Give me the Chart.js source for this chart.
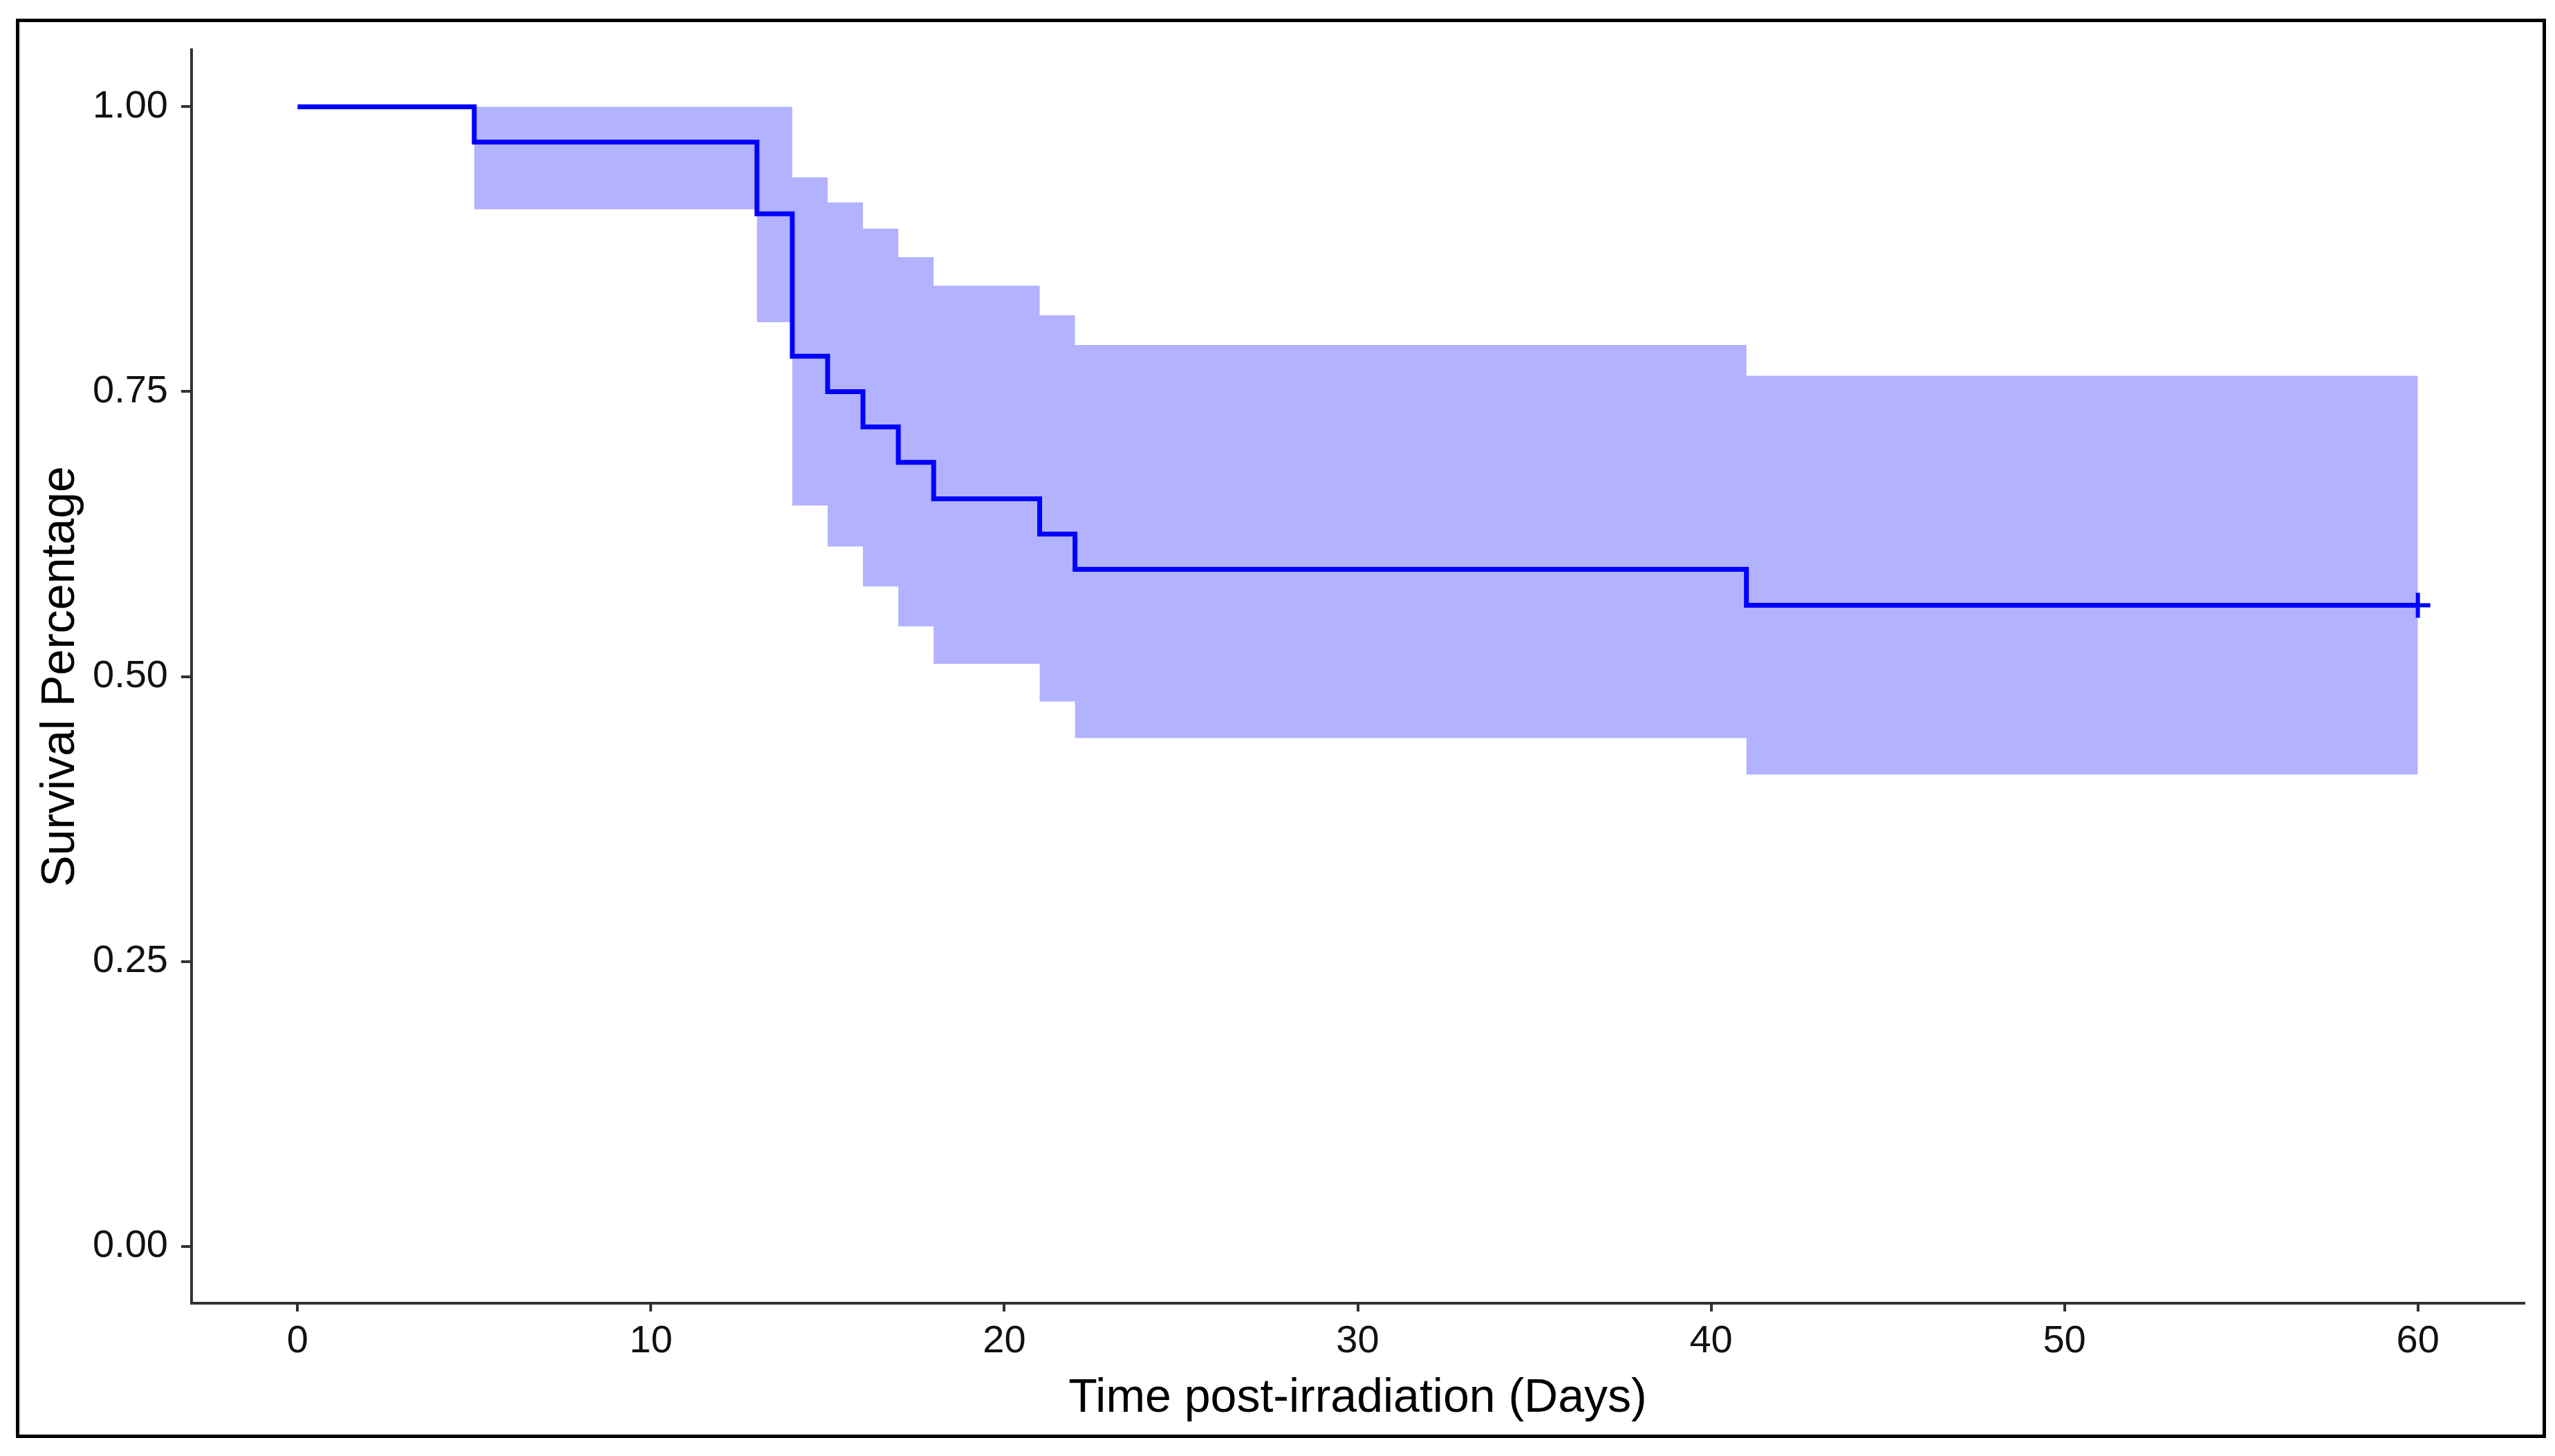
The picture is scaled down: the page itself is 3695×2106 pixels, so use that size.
<!DOCTYPE html>
<html>
<head>
<meta charset="utf-8">
<title>Survival curve</title>
<script src="https://cdn.jsdelivr.net/npm/chart.js@4.4.1/dist/chart.umd.min.js"></script>
<style>
    html, body { margin: 0; padding: 0; background: #fff; }
    #wrap { width: 3695px; height: 2106px; }
</style>
</head>
<body>
<div id="wrap"><canvas id="kmChart" width="3695" height="2106"></canvas></div>
<script>
// Kaplan-Meier estimate
const times = [0, 5, 13, 14, 15, 16, 17, 18, 21, 22, 41, 60];
const survival = [1.000, 0.969, 0.906, 0.781, 0.750, 0.719, 0.688, 0.656, 0.625, 0.594, 0.5625, 0.5625];
const upperCI = [1.000, 1.000, 1.000, 0.938, 0.916, 0.893, 0.868, 0.843, 0.817, 0.791, 0.764, 0.764];
const lowerCI = [1.000, 0.910, 0.811, 0.650, 0.614, 0.579, 0.544, 0.511, 0.478, 0.446, 0.414, 0.414];

// censored observations
const censorTimes = [60];
const censorSurv = [0.5625];

const xTicks = [0, 10, 20, 30, 40, 50, 60];
const yTicks = [0, 0.25, 0.5, 0.75, 1];
const yTickLabels = ['0.00', '0.25', '0.50', '0.75', '1.00'];

const FONT = "'Liberation Sans', Arial, Helvetica, sans-serif";
const AXIS = '#333333';

const toPoints = (xs, ys) => xs.map((x, i) => ({ x: x, y: ys[i] }));

// black box round the whole figure
const framePlugin = {
    id: 'frame',
    afterDraw(chart) {
        const ctx = chart.ctx;
        ctx.save();
        ctx.strokeStyle = '#000';
        ctx.lineWidth = 5;
        ctx.strokeRect(25.5, 29.5, 3654, 2048);
        ctx.restore();
    }
};

const ctx = document.getElementById('kmChart').getContext('2d');
new Chart(ctx, {
    type: 'scatter',
    data: {
        datasets: [
            {
                label: 'Survival',
                data: toPoints(times, survival),
                showLine: true,
                stepped: 'before',
                borderColor: '#0000FF',
                borderWidth: 7,
                pointRadius: 0,
                fill: false
            },
            {
                label: 'Censored',
                data: toPoints(censorTimes, censorSurv),
                showLine: false,
                pointStyle: 'cross',
                pointRadius: 18,
                pointBorderColor: '#0000FF',
                pointBorderWidth: 6
            },
            {
                label: 'Upper',
                data: toPoints(times, upperCI),
                showLine: true,
                stepped: 'before',
                borderWidth: 0,
                borderColor: 'rgba(0,0,0,0)',
                pointRadius: 0,
                backgroundColor: 'rgba(0, 0, 255, 0.3)',
                fill: '+1'
            },
            {
                label: 'Lower',
                data: toPoints(times, lowerCI),
                showLine: true,
                stepped: 'before',
                borderWidth: 0,
                borderColor: 'rgba(0,0,0,0)',
                pointRadius: 0,
                fill: false
            }
        ]
    },
    options: {
        responsive: false,
        animation: false,
        devicePixelRatio: 1,
        layout: {
            padding: { left: 0, top: 72, right: 45, bottom: 0 }
        },
        plugins: {
            legend: { display: false },
            tooltip: { enabled: false }
        },
        scales: {
            x: {
                type: 'linear',
                min: -3,
                max: 63,
                afterBuildTicks: (scale) => {
                    scale.ticks = xTicks.map(v => ({ value: v }));
                },
                afterFit: (scale) => { scale.height = 221; },
                grid: {
                    drawOnChartArea: false,
                    drawTicks: true,
                    tickLength: 12,
                    color: AXIS,
                    lineWidth: 4
                },
                border: { display: true, color: AXIS, width: 4 },
                ticks: {
                    padding: 10,
                    color: '#111',
                    font: { family: FONT, size: 56 },
                    maxRotation: 0,
                    callback: (value) => String(value)
                },
                title: {
                    display: true,
                    text: 'Time post-irradiation (Days)',
                    color: '#000',
                    font: { family: FONT, size: 68 },
                    padding: { top: 0, bottom: 42 }
                }
            },
            y: {
                type: 'linear',
                min: -0.05,
                max: 1.05,
                afterBuildTicks: (scale) => {
                    scale.ticks = yTicks.map(v => ({ value: v }));
                },
                afterFit: (scale) => { scale.width = 277; },
                grid: {
                    drawOnChartArea: false,
                    drawTicks: true,
                    tickLength: 15,
                    color: AXIS,
                    lineWidth: 4
                },
                border: { display: true, color: AXIS, width: 4 },
                ticks: {
                    padding: 19,
                    color: '#111',
                    font: { family: FONT, size: 56 },
                    callback: (value, index) => yTickLabels[index]
                },
                title: {
                    display: true,
                    text: 'Survival Percentage',
                    color: '#000',
                    font: { family: FONT, size: 68 },
                    padding: { top: 47, bottom: 0 }
                }
            }
        }
    },
    plugins: [framePlugin]
});
</script>
</body>
</html>
